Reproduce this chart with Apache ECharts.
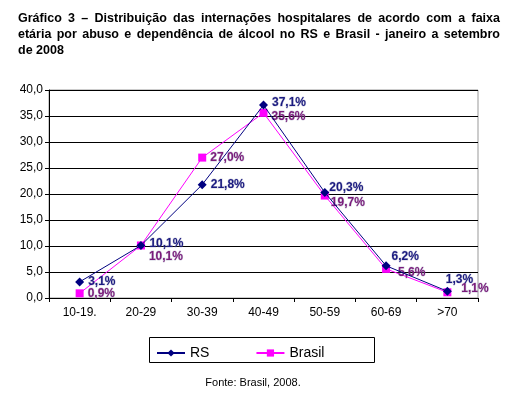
<!DOCTYPE html>
<html lang="pt">
<head>
  <meta charset="UTF-8">
  <title>Gráfico 3</title>
  <script src="https://cdn.jsdelivr.net/npm/echarts@6/dist/echarts.min.js"></script>
  <style>
    html, body { margin: 0; padding: 0; background: #fff; }
  </style>
</head>
<body>
<div id="main" style="width: 514px;height:399px;"></div>
<script type="text/javascript">
  // dados
  var categorias = ['10-19.', '20-29', '30-39', '40-49', '50-59', '60-69', '>70'];
  var rs = [3.1, 10.1, 21.8, 37.1, 20.3, 6.2, 1.3];
  var brasil = [0.9, 10.1, 27.0, 35.6, 19.7, 5.6, 1.1];
  var tituloLinhas = [
    'Gráfico 3 – Distribuição das internações hospitalares de acordo com a faixa',
    'etária por abuso e dependência de álcool no RS e Brasil - janeiro a setembro',
    'de 2008'
  ];
  var fonte = 'Fonte: Brasil, 2008.';

  // posição dos rótulos (x, y) em px, relativa ao ponto
  var offRS = [[0, 0], [0, -2], [0, 0], [0, -2], [-4, -5], [-3, -9], [-10, -12]];
  var offBR = [[0, 0], [0, 11], [0, 0], [0, 4], [-2, 7], [4, 4], [6, -4]];

  function fmt(v) { return v.toFixed(1).replace('.', ',') + '%'; }

  function serieDados(vals, offs, cor) {
    return vals.map(function (v, i) {
      return {
        value: v,
        label: {
          show: true,
          position: 'right',
          distance: 4,
          offset: offs[i],
          formatter: fmt(v),
          color: cor,
          fontWeight: 'bold',
          fontSize: 12,
          fontFamily: 'Liberation Sans, Arial, sans-serif',
          textBorderColor: 'rgba(120,120,160,0.35)',
          textBorderWidth: 1
        }
      };
    });
  }

  // título justificado, palavra a palavra
  var ctx = document.createElement('canvas').getContext('2d');
  var fonteTitulo = 'bold 12.5px "Liberation Sans", Arial, sans-serif';
  ctx.font = fonteTitulo;
  var graficos = [];
  var x0 = 18, x1 = 500;
  tituloLinhas.forEach(function (linha, li) {
    var palavras = linha.split(' ');
    var y = 12 + li * 16;
    if (li === tituloLinhas.length - 1) {
      graficos.push({ type: 'text', x: x0, y: y,
        style: { text: linha, font: fonteTitulo, fill: '#000' } });
      return;
    }
    var larg = palavras.map(function (p) { return ctx.measureText(p).width; });
    var total = larg.reduce(function (a, b) { return a + b; }, 0);
    var gap = (x1 - x0 - total) / (palavras.length - 1);
    var x = x0;
    palavras.forEach(function (p, i) {
      graficos.push({ type: 'text', x: x, y: y,
        style: { text: p, font: fonteTitulo, fill: '#000' } });
      x += larg[i] + gap;
    });
  });
  graficos.push({ type: 'text', x: 253, y: 377,
    style: { text: fonte, font: '11px "Liberation Sans", Arial, sans-serif', fill: '#000', align: 'center' } });
  graficos.push({ type: 'rect', shape: { x: 149.5, y: 337.5, width: 225, height: 25 },
    style: { fill: 'none', stroke: '#000', lineWidth: 1 }, z: 10 });

  var myChart = echarts.init(document.getElementById('main'));
  myChart.setOption({
    animation: false,
    textStyle: { fontFamily: 'Liberation Sans, Arial, sans-serif' },
    grid: { left: 49, right: 36, top: 90, bottom: 101, show: true,
      borderColor: '#999', borderWidth: 1 },
    graphic: graficos,
    legend: {
      left: 151, top: 341,
      itemWidth: 28, itemHeight: 9, itemGap: 46,
      textStyle: { fontSize: 14, color: '#000', fontFamily: 'Liberation Sans, Arial, sans-serif' },
      data: ['RS', 'Brasil']
    },
    xAxis: {
      type: 'category',
      data: categorias,
      boundaryGap: true,
      axisLine: { lineStyle: { color: '#000' } },
      axisTick: { show: true, length: 4, inside: false, lineStyle: { color: '#000' } },
      axisLabel: { color: '#000', fontSize: 12, margin: 9 },
      splitLine: { show: false }
    },
    yAxis: {
      type: 'value',
      min: 0, max: 40, interval: 5,
      axisLine: { show: true, lineStyle: { color: '#000' } },
      axisTick: { show: true, length: 4, lineStyle: { color: '#000' } },
      axisLabel: { color: '#000', fontSize: 12, margin: 6,
        formatter: function (v) { return v.toFixed(1).replace('.', ','); } },
      splitLine: { show: true, lineStyle: { color: '#000', width: 1 } }
    },
    series: [
      {
        name: 'RS',
        type: 'line',
        symbol: 'diamond',
        symbolSize: 9,
        color: '#000080',
        lineStyle: { width: 1, color: '#000080' },
        itemStyle: { color: '#000080' },
        data: serieDados(rs, offRS, '#1a1a80'),
        z: 3
      },
      {
        name: 'Brasil',
        type: 'line',
        symbol: 'rect',
        symbolSize: 8,
        color: '#ff00ff',
        lineStyle: { width: 1, color: '#ff00ff' },
        itemStyle: { color: '#ff00ff' },
        data: serieDados(brasil, offBR, '#7a1a7a'),
        z: 2
      }
    ]
  });
</script>
</body>
</html>
